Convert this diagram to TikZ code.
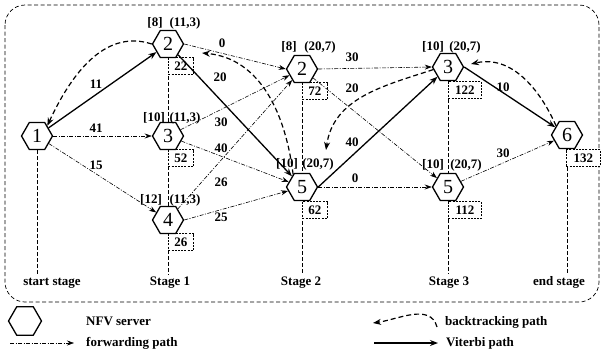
\documentclass[tikz,border=0pt]{standalone}
\usepackage{fontspec}
\setmainfont{Liberation Serif}
\usetikzlibrary{shapes.geometric,arrows.meta,backgrounds}

\begin{document}
\begin{tikzpicture}[x=1pt,y=1pt,
  hexa/.style={regular polygon, regular polygon sides=6, minimum size=31pt, inner sep=0pt, draw, line width=1.3pt, fill=white, font=\fontsize{20}{20}\selectfont},
  lbl/.style={font=\fontsize{13}{13}\selectfont\bfseries, inner sep=0pt},
  stagelbl/.style={font=\fontsize{13}{13}\selectfont\bfseries, inner sep=2pt, anchor=base},
  legtext/.style={font=\fontsize{13}{13}\selectfont\bfseries, inner sep=0pt, anchor=west},
  costbox/.style={draw, line width=0.9pt, dash pattern=on 2pt off 1.2pt, fill=white, minimum height=17pt, inner sep=0pt, anchor=west, font=\fontsize{13}{13}\selectfont\bfseries},
  vit/.style={line width=1.3pt, -{Stealth[length=8pt,width=6pt]}},
  fwd/.style={line width=0.6pt, dash pattern=on 4pt off 1.5pt on 1pt off 1.5pt, -{Stealth[length=7pt,width=5pt]}},
  back/.style={line width=1.2pt, dash pattern=on 5pt off 3pt, -{Stealth[length=8pt,width=6pt]}},
  stageline/.style={line width=0.6pt, dash pattern=on 4pt off 2pt},
  frame/.style={line width=0.7pt, dash pattern=on 4pt off 2.5pt, rounded corners=20pt},
]
\useasboundingbox (0,0) rectangle (603,-354);

% frame
\draw[frame] (5,-5) rectangle (599,-302);

% cost boxes
\node[costbox, minimum width=25pt] (k22) at (168,-66) {22};
\node[costbox, minimum width=25pt] (k52) at (168,-158) {52};
\node[costbox, minimum width=25pt] (k26) at (168,-242) {26};
\node[costbox, minimum width=25pt] (k72) at (302,-91) {72};
\node[costbox, minimum width=25pt] (k62) at (302,-210) {62};
\node[costbox, minimum width=33pt] (k122) at (448,-90) {122};
\node[costbox, minimum width=33pt] (k112) at (448,-210) {112};
\node[costbox, minimum width=34pt] (k132) at (566,-158) {132};

% nodes
\node[hexa] (n1) at (37,-136) {1};
\node[hexa] (a2) at (168,-44) {2};
\node[hexa] (a3) at (168,-136) {3};
\node[hexa] (a4) at (168,-220) {4};
\node[hexa] (b2) at (302,-69) {2};
\node[hexa] (b5) at (302,-187) {5};
\node[hexa] (c3) at (448,-67) {3};
\node[hexa] (c5) at (448,-187) {5};
\node[hexa] (n6) at (567,-135) {6};

% node labels
\node[lbl] (la2) at (155,-23) {[8]};
\node[lbl] (ta2) at (185,-23) {(11,3)};
\node[lbl] (la3) at (154,-118) {[10]};
\node[lbl] (ta3) at (185,-118) {(11,3)};
\node[lbl] (la4) at (151,-200) {[12]};
\node[lbl] (ta4) at (185,-200) {(11,3)};
\node[lbl] (lb2) at (289,-47) {[8]};
\node[lbl] (tb2) at (320,-47) {(20,7)};
\node[lbl] (lb5) at (287,-164) {[10]};
\node[lbl] (tb5) at (318,-164) {(20,7)};
\node[lbl] (lc3) at (433,-47) {[10]};
\node[lbl] (tc3) at (465,-47) {(20,7)};
\node[lbl] (lc5) at (433,-165) {[10]};
\node[lbl] (tc5) at (466,-165) {(20,7)};

% stage labels
\node[stagelbl] (s0) at (52,-285) {start stage};
\node[stagelbl] (s1) at (170,-285) {Stage 1};
\node[stagelbl] (s2) at (301,-285) {Stage 2};
\node[stagelbl] (s3) at (449,-285) {Stage 3};
\node[stagelbl] (s4) at (559,-285) {end stage};

% stage lines (behind)
\begin{pgfonlayer}{background}
\draw[stageline] (n1.south) -- (n1.south |- s0.north);
\draw[stageline] (a2.south) -- (a2.south |- s1.north);
\draw[stageline] (b2.south) -- (b2.south |- s2.north);
\draw[stageline] (c3.south) -- (c3.south |- s3.north);
\draw[stageline] (n6.south) -- (n6.south |- s4.north);
\end{pgfonlayer}

% forwarding paths
\draw[fwd] (n1.east) -- (a3.west);
\draw[fwd] (n1) -- (a4);
\draw[fwd] (a2.east) -- (b2.west);
\draw[fwd] (a3) -- (b2);
\draw[fwd] (a3) -- (b5);
\draw[fwd] (a4) -- (b2);
\draw[fwd] (a4.east) -- (b5);
\draw[fwd] (b2.east) -- (c3.west);
\draw[fwd] (b2) -- (c5);
\draw[fwd] (b5.east) -- (c5.west);
\draw[fwd] (c5) -- (n6);

% Viterbi path
\draw[vit] (n1) -- (a2);
\draw[vit] (a2) -- (b5);
\draw[vit] (b5.east) -- (c3);
\draw[vit] (c3.east) -- (n6);

% backtracking path
\coordinate (bt2) at (202,-53);
\coordinate (bt3) at (326,-150);
\coordinate (bt4) at (471,-64);
\draw[back] (a2.west) to[out=162,in=65] (n1.north east);
\draw[back] (b5.125) to[out=97,in=-5] (bt2);
\draw[back] (c3.190) to[out=198,in=82] (bt3);
\draw[back] (n6.140) to[out=114,in=13] (bt4);

% edge labels
\node[lbl] (e11) at (96,-84) {11};
\node[lbl] (e41) at (96,-128) {41};
\node[lbl] (e15) at (96,-165) {15};
\node[lbl] (e0a) at (222,-43) {0};
\node[lbl] (e20a) at (220,-77) {20};
\node[lbl] (e30a) at (221,-122) {30};
\node[lbl] (e40a) at (221,-148) {40};
\node[lbl] (e26) at (221,-182) {26};
\node[lbl] (e25) at (221,-217) {25};
\node[lbl] (e30b) at (352,-57) {30};
\node[lbl] (e20b) at (352,-88) {20};
\node[lbl] (e40b) at (352,-142) {40};
\node[lbl] (e0b) at (355,-178) {0};
\node[lbl] (e10) at (503,-87) {10};
\node[lbl] (e30c) at (503,-153) {30};

% legend
\node[hexa, minimum size=33pt] (lg) at (25,-321) {};
\node[legtext] (lgt1) at (86,-321) {NFV server};
\coordinate (lf1) at (10,-343);
\coordinate (lf2) at (74,-343);
\draw[fwd] (lf1) -- (lf2);
\node[legtext] (lgt2) at (86,-343) {forwarding path};
\coordinate (lb1) at (437,-327);
\coordinate (lb2) at (373,-323);
\draw[back] (lb1) to[out=105,in=8] (lb2);
\node[legtext] (lgt3) at (445,-322) {backtracking path};
\coordinate (lv1) at (374,-343);
\coordinate (lv2) at (438,-343);
\draw[vit] (lv1) -- (lv2);
\node[legtext] (lgt4) at (446,-343) {Viterbi path};
\end{tikzpicture}
\end{document}
